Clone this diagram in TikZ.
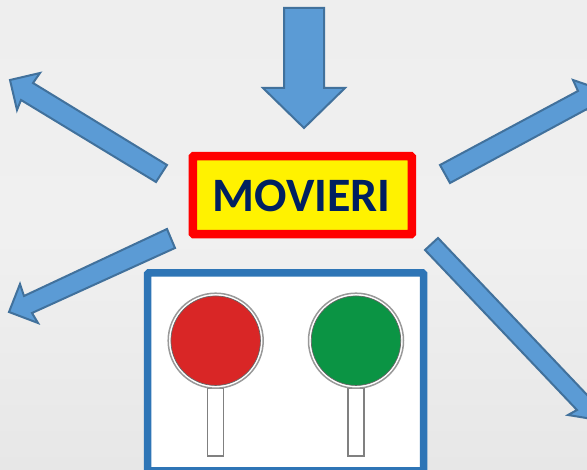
\documentclass[tikz,border=0pt]{standalone}
\usepackage{fontspec}
\setmainfont{Carlito}
\definecolor{bgtop}{HTML}{EEEEEE}
\definecolor{bgmid}{HTML}{F0F0F0}
\definecolor{bgbottom}{HTML}{E7E7E7}
\definecolor{arrowfill}{HTML}{5B9BD5}
\definecolor{arrowline}{HTML}{41719C}
\definecolor{boxblue}{HTML}{2E75B6}
\definecolor{navytext}{HTML}{002060}
\definecolor{paddlered}{HTML}{D92626}
\definecolor{paddlegreen}{HTML}{0B9444}
\tikzset{
  blockarrow/.style={fill=arrowfill,draw=arrowline,line width=2pt,line join=miter},
  signbox/.style={draw=red,fill=yellow,line width=8.5pt,rounded corners=1pt,minimum width=219pt,minimum height=78pt,inner sep=0pt},
  panelbox/.style={draw=boxblue,fill=white,line width=7.5pt,rounded corners=1pt},
  paddlering/.style={circle,draw=black!40,fill=white,line width=1.5pt,minimum size=95pt,inner sep=0pt},
  paddledisc/.style={circle,draw=black!60,line width=.7pt,minimum size=89.5pt,inner sep=0pt},
  handlebox/.style={draw=black!50,fill=white,line width=1.2pt,minimum width=16pt,minimum height=68pt,inner sep=0pt}
}
\begin{document}
\begin{tikzpicture}[x=1pt,y=-1pt]
\useasboundingbox (0,0) rectangle (587,470);
\clip (0,0) rectangle (587,470);
\shade[top color=bgtop,bottom color=bgbottom,middle color=bgmid] (0,0) rectangle (587,470);
% block arrows
\draw[blockarrow] (284,8) -- (324,8) -- (324,88) -- (345,88) -- (304,128) -- (263,88) -- (284,88) -- cycle;
\draw[blockarrow] (10,80) -- (40,73) -- (33,83) -- (167,165) -- (156,182) -- (21,100) -- (17,110) -- cycle;
\draw[blockarrow] (9,312) -- (20,284) -- (24,296) -- (167,229) -- (175,248) -- (32,313) -- (38,323) -- cycle;
\draw[blockarrow] (440,165) -- (578,91) -- (573,80) -- (602,90) -- (593,120) -- (587,109) -- (450,183) -- cycle;
\draw[blockarrow] (438,238) -- (590,398) -- (599,393) -- (598.5,420) -- (568,415) -- (577,410) -- (425,250) -- cycle;
% sign
\node[signbox] (sign) at (302.3,195.2) {};
\node[text=navytext,font=\fontsize{48}{48}\selectfont\bfseries] (movieri) at (301.5,195.5) {MOVIERI};
% panel
\draw[panelbox] (147.7,273) rectangle (423.5,470.8);
% paddles
\node[handlebox] (hr) at (215.7,422) {};
\node[handlebox] (hg) at (356,422) {};
\node[paddlering] (rr) at (215.7,340.7) {};
\node[paddlering] (rg) at (356,340.7) {};
\node[paddledisc,fill=paddlered] (dr) at (rr.center) {};
\node[paddledisc,fill=paddlegreen] (dg) at (rg.center) {};
\end{tikzpicture}
\end{document}
